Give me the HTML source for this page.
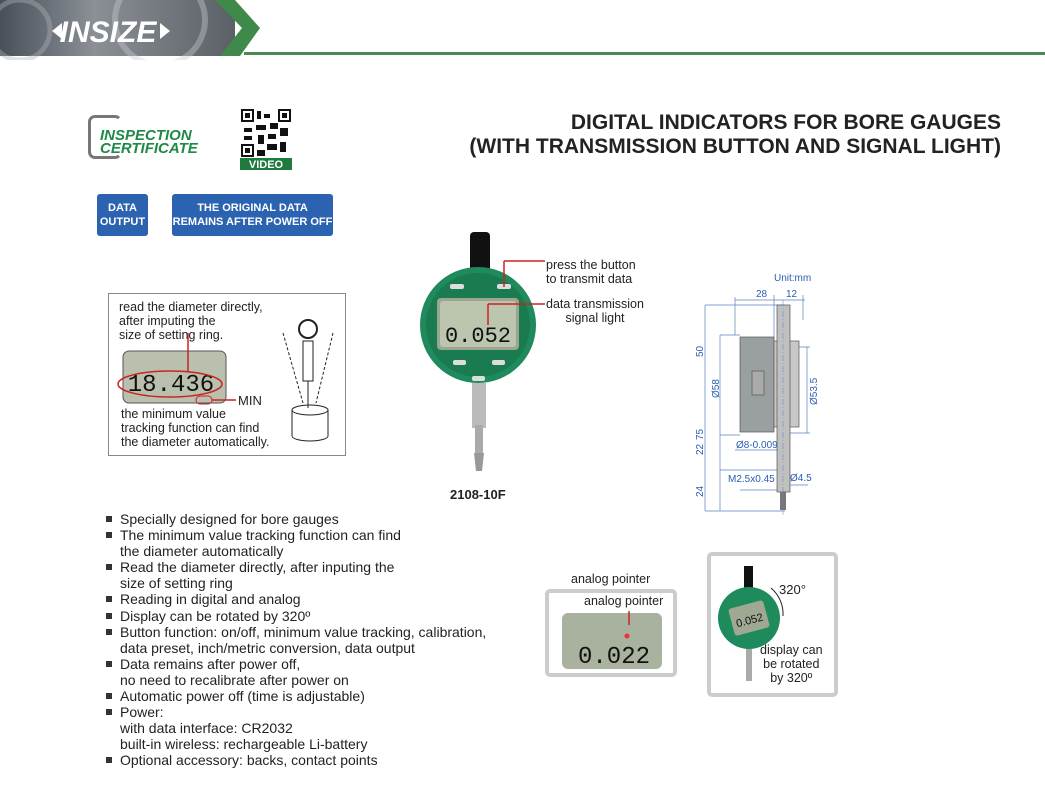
<!DOCTYPE html>
<html><head><meta charset="utf-8"><style>
body{margin:0;width:1045px;height:787px;overflow:hidden;background:#fff;font-family:"Liberation Sans",sans-serif;position:relative}
.a{position:absolute}
.bul{position:absolute;left:106px;top:511px;font-size:14px;line-height:16.1px;color:#222}
.bul div{padding-left:14px;position:relative}
.bul div.b:before{content:"";position:absolute;left:0;top:5px;width:6px;height:6px;background:#333}
.btn{position:absolute;background:#2b63b0;color:#fff;font-weight:bold;font-size:11px;text-align:center;border-radius:3px;line-height:14px}
</style></head><body>
<svg class="a" style="left:0;top:0" width="1045" height="60">
<defs><linearGradient id="g" x1="0" x2="1"><stop offset="0" stop-color="#4a5058"/><stop offset="0.4" stop-color="#8a9096"/><stop offset="1" stop-color="#5b6067"/></linearGradient></defs>
<rect x="0" y="0" width="235" height="56" fill="url(#g)"/>
<circle cx="160" cy="20" r="45" fill="none" stroke="#c8ccd0" stroke-width="6" opacity=".4"/>
<circle cx="20" cy="30" r="30" fill="none" stroke="#b0b4b8" stroke-width="5" opacity=".4"/>
<polygon points="215,0 235,0 260,28 240,56 220,56 242,28" fill="#3f8a4a"/>
<rect x="244" y="52" width="801" height="3" fill="#4a8a52"/>
<text x="108" y="42" font-size="30" font-weight="bold" font-style="italic" fill="#fff" text-anchor="middle" font-family="Liberation Sans">INSIZE</text>
<polygon points="52,31 62,23 62,39" fill="#fff"/><polygon points="170,31 160,23 160,39" fill="#fff"/>
</svg>
<div class="a" style="right:44px;top:111px;text-align:right;font-weight:bold;font-size:21px;line-height:24px;color:#222">DIGITAL INDICATORS FOR BORE GAUGES<br>(WITH TRANSMISSION BUTTON AND SIGNAL LIGHT)</div>
<div class="a" style="left:88px;top:115px;width:28px;height:38px;border:3px solid #777;border-radius:7px;border-right-color:transparent"></div>
<div class="a" style="left:100px;top:129px;font-size:15px;line-height:13px;font-weight:900;font-style:italic;color:#1e8a45">INSPECTION<br>CERTIFICATE</div>
<svg class="a" style="left:240px;top:108px" width="52" height="62">
<rect width="52" height="50" fill="#fff"/>
<g fill="#111"><rect x="1" y="1" width="13" height="13"/><rect x="38" y="1" width="13" height="13"/><rect x="1" y="36" width="13" height="13"/>
<rect x="17" y="3" width="4" height="8"/><rect x="24" y="6" width="6" height="4"/><rect x="16" y="17" width="10" height="5"/><rect x="30" y="15" width="8" height="6"/><rect x="4" y="20" width="8" height="4"/><rect x="40" y="20" width="8" height="8"/><rect x="18" y="27" width="6" height="9"/><rect x="28" y="26" width="8" height="5"/><rect x="27" y="36" width="10" height="6"/><rect x="40" y="34" width="6" height="10"/><rect x="17" y="42" width="8" height="6"/><rect x="4" y="28" width="8" height="4"/></g>
<g fill="#fff"><rect x="3" y="3" width="9" height="9"/><rect x="40" y="3" width="9" height="9"/><rect x="3" y="38" width="9" height="9"/></g>
<g fill="#111"><rect x="5" y="5" width="5" height="5"/><rect x="42" y="5" width="5" height="5"/><rect x="5" y="40" width="5" height="5"/></g>
<rect y="50" width="52" height="12" fill="#1f7a3e"/><text x="26" y="60" font-size="11" font-weight="bold" fill="#fff" text-anchor="middle">VIDEO</text>
</svg>
<div class="btn" style="left:97px;top:194px;width:51px;height:42px;padding-top:7px;box-sizing:border-box">DATA<br>OUTPUT</div>
<div class="btn" style="left:172px;top:194px;width:161px;height:42px;padding-top:7px;box-sizing:border-box">THE ORIGINAL DATA<br>REMAINS AFTER POWER OFF</div>

<div class="a" style="left:108px;top:293px;width:238px;height:163px;border:1px solid #888;box-sizing:border-box"></div>
<div class="a" style="left:119px;top:300px;font-size:12.5px;line-height:14px;color:#222">read the diameter directly,<br>after imputing the<br>size of setting ring.</div>
<div class="a" style="left:121px;top:407px;font-size:12.5px;line-height:14px;color:#222">the minimum value<br>tracking function can find<br>the diameter automatically.</div>
<svg class="a" style="left:108px;top:293px" width="238" height="163">
<rect x="15" y="58" width="103" height="52" rx="6" fill="#b9c0ae" stroke="#555"/>
<text x="63" y="98" font-size="24" fill="#111" text-anchor="middle" font-family="Liberation Mono">18.436</text>
<ellipse cx="62" cy="91" rx="52" ry="13" fill="none" stroke="#c22" stroke-width="1.5"/>
<line x1="80" y1="40" x2="80" y2="78" stroke="#c22" stroke-width="1.5"/>
<rect x="88" y="103" width="16" height="8" rx="4" fill="none" stroke="#c22"/>
<line x1="104" y1="107" x2="128" y2="107" stroke="#c22" stroke-width="1.5"/>
<text x="130" y="112" font-size="13" fill="#222">MIN</text>
<circle cx="200" cy="36" r="9" fill="none" stroke="#222" stroke-width="2"/>
<rect x="195" y="48" width="10" height="40" fill="none" stroke="#222"/>
<line x1="200" y1="88" x2="200" y2="115" stroke="#222"/>
<ellipse cx="202" cy="117" rx="18" ry="5" fill="none" stroke="#222"/>
<path d="M184 117 V143 A18 5 0 0 0 220 143 V117" fill="none" stroke="#222"/>
<line x1="175" y1="40" x2="195" y2="110" stroke="#222" stroke-dasharray="3 2"/>
<line x1="225" y1="40" x2="208" y2="110" stroke="#222" stroke-dasharray="3 2"/>
</svg>

<svg class="a" style="left:410px;top:225px" width="150" height="260">
<rect x="60" y="7" width="20" height="40" rx="4" fill="#111"/>
<circle cx="68" cy="100" r="58" fill="#1f8a5c"/>
<circle cx="68" cy="100" r="52" fill="#1a7a50"/>
<rect x="27" y="73" width="82" height="52" rx="4" fill="#9aa68f"/>
<rect x="30" y="76" width="76" height="46" rx="3" fill="#bcc6ae"/>
<text x="68" y="117" font-size="22" fill="#111" text-anchor="middle" font-family="Liberation Mono">0.052</text>
<rect x="40" y="59" width="14" height="5" rx="2" fill="#ddd"/><rect x="87" y="59" width="14" height="5" rx="2" fill="#ddd"/>
<rect x="43" y="135" width="13" height="5" rx="2" fill="#ddd"/><rect x="82" y="135" width="13" height="5" rx="2" fill="#ddd"/><rect x="62" y="151" width="13" height="5" rx="2" fill="#ddd"/>
<rect x="62" y="158" width="14" height="45" fill="#bbb"/><rect x="65" y="200" width="8" height="30" fill="#aaa"/>
<path d="M64 228 h10 l-2 18 h-6z" fill="#999"/>
<line x1="94" y1="62" x2="94" y2="36" stroke="#c22" stroke-width="1.5"/><line x1="94" y1="36" x2="135" y2="36" stroke="#c22" stroke-width="1.5"/>
<line x1="78" y1="100" x2="78" y2="79" stroke="#c22" stroke-width="1.5"/><line x1="78" y1="79" x2="135" y2="79" stroke="#c22" stroke-width="1.5"/>
</svg>
<div class="a" style="left:546px;top:258px;font-size:12.5px;line-height:14px;color:#222">press the button<br>to transmit data</div>
<div class="a" style="left:546px;top:297px;font-size:12.5px;line-height:14px;color:#222;text-align:center">data transmission<br>signal light</div>
<div class="a" style="left:450px;top:487px;font-size:13px;font-weight:bold;color:#222">2108-10F</div>

<svg class="a" style="left:690px;top:265px" width="150" height="255" font-family="Liberation Sans" font-size="10" fill="#2a5db0">
<g stroke="#5a82c0" stroke-width=".7" fill="none">
<line x1="15" y1="40" x2="15" y2="246"/><line x1="15" y1="40" x2="95" y2="40"/><line x1="15" y1="246" x2="95" y2="246"/>
<line x1="30" y1="70" x2="30" y2="246"/><line x1="30" y1="70" x2="50" y2="70"/><line x1="30" y1="170" x2="50" y2="170"/><line x1="30" y1="205" x2="90" y2="205"/>
<line x1="45" y1="32" x2="45" y2="70"/><line x1="45" y1="35" x2="115" y2="35"/><line x1="84" y1="30" x2="84" y2="80"/>
<line x1="113" y1="30" x2="113" y2="55"/><line x1="117" y1="82" x2="117" y2="168"/><line x1="95" y1="82" x2="120" y2="82"/><line x1="95" y1="168" x2="120" y2="168"/>
<line x1="50" y1="225" x2="88" y2="225"/><line x1="45" y1="185" x2="89" y2="185"/><line x1="93" y1="220" x2="118" y2="220"/>
</g>
<rect x="50" y="72" width="34" height="95" fill="#9aa0a0" stroke="#555" stroke-width=".7"/>
<rect x="62" y="106" width="12" height="24" fill="#aaa" stroke="#555" stroke-width=".7"/>
<rect x="84" y="76" width="25" height="86" fill="#c8c8c8" stroke="#555" stroke-width=".7"/>
<rect x="87" y="40" width="13" height="187" fill="#c0c0c0" stroke="#555" stroke-width=".7"/>
<rect x="90" y="227" width="6" height="18" fill="#777"/>
<line x1="93" y1="35" x2="93" y2="250" stroke="#5a82c0" stroke-width=".5" stroke-dasharray="6 2 1 2"/>
<text x="84" y="16">Unit:mm</text><text x="66" y="32">28</text><text x="96" y="32">12</text>
<text transform="translate(13,92) rotate(-90)">50</text><text transform="translate(13,175) rotate(-90)">75</text>
<text transform="translate(13,190) rotate(-90)">22</text><text transform="translate(13,232) rotate(-90)">24</text>
<text transform="translate(29,133) rotate(-90)">Ø58</text><text transform="translate(127,140) rotate(-90)">Ø53.5</text>
<text x="46" y="183">Ø8-0.009</text><text x="38" y="217">M2.5x0.45</text><text x="100" y="216">Ø4.5</text>
</svg>

<div class="bul">
<div class="b">Specially designed for bore gauges</div>
<div class="b">The minimum value tracking function can find<br>the diameter automatically</div>
<div class="b">Read the diameter directly, after inputing the<br>size of setting ring</div>
<div class="b">Reading in digital and analog</div>
<div class="b">Display can be rotated by 320º</div>
<div class="b">Button function: on/off, minimum value tracking, calibration,<br>data preset, inch/metric conversion, data output</div>
<div class="b">Data remains after power off,<br>no need to recalibrate after power on</div>
<div class="b">Automatic power off (time is adjustable)</div>
<div class="b">Power:<br>with data interface: CR2032<br>built-in wireless: rechargeable Li-battery</div>
<div class="b">Optional accessory: backs, contact points</div>
</div>

<div class="a" style="left:571px;top:572px;font-size:12.5px;color:#222">analog pointer</div>
<div class="a" style="left:545px;top:589px;width:132px;height:88px;border:4px solid #ccc;border-radius:5px;box-sizing:border-box;background:#fff"></div>
<div class="a" style="left:584px;top:594px;font-size:12.5px;color:#222">analog pointer</div>
<svg class="a" style="left:562px;top:611px" width="100" height="60">
<rect x="0" y="2" width="100" height="56" rx="6" fill="#a9b19f"/>
<line x1="67" y1="0" x2="67" y2="14" stroke="#c22" stroke-width="1.5"/><circle cx="65" cy="25" r="2.5" fill="#e33"/>
<text x="52" y="52" font-size="24" fill="#111" text-anchor="middle" font-family="Liberation Mono">0.022</text>
</svg>

<div class="a" style="left:707px;top:552px;width:131px;height:145px;border:4px solid #ccc;border-radius:5px;box-sizing:border-box;background:#fff"></div>
<svg class="a" style="left:711px;top:556px" width="125" height="140">
<rect x="33" y="10" width="9" height="24" fill="#111"/>
<circle cx="38" cy="62" r="31" fill="#1f8a5c"/>
<rect x="20" y="48" width="36" height="28" rx="3" fill="#9ea892" transform="rotate(-15 38 62)"/>
<text x="38" y="68" font-size="11" fill="#111" text-anchor="middle" transform="rotate(-15 38 62)">0.052</text>
<rect x="35" y="93" width="6" height="32" fill="#aaa"/>
<path d="M60 32 A34 34 0 0 1 72 60" fill="none" stroke="#222"/>
<text x="68" y="38" font-size="13" fill="#222">320°</text>
</svg>
<div class="a" style="left:760px;top:643px;font-size:12.5px;line-height:14px;color:#222;text-align:center">display can<br>be rotated<br>by 320º</div>
</body></html>
